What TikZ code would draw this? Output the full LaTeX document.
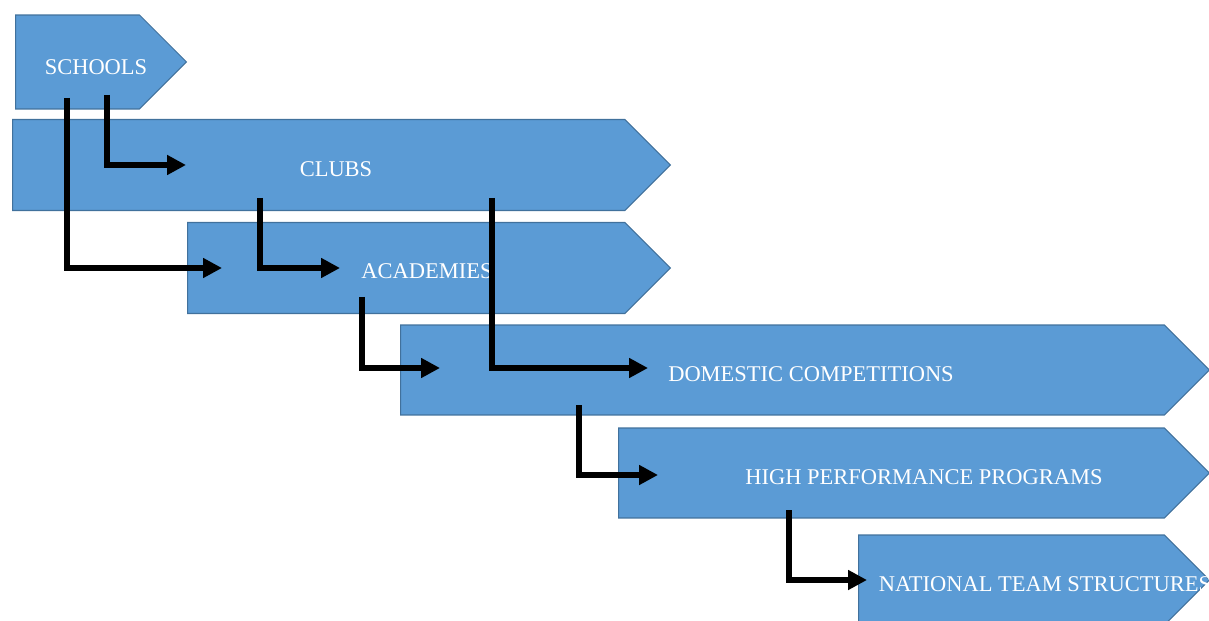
\documentclass[tikz,border=0pt]{standalone}
\usepackage{fontspec}
\setmainfont{Liberation Serif}
\usetikzlibrary{shapes.symbols, arrows.meta}

\definecolor{stagefill}{HTML}{5B9BD5}
\definecolor{stageline}{HTML}{41719C}

\tikzset{
  stage/.style = {signal, signal to=east, signal from=nowhere,
    signal pointer angle=90, fill=stagefill, draw=stageline,
    line width=0.6pt, inner sep=0pt, anchor=west},
  stagetext/.style = {text=white, inner sep=0pt,
    font=\fontsize{12.8}{15}\selectfont},
  flow/.style = {line width=3.4pt, -{Triangle[length=0.38cm, width=0.38cm]}}
}

\begin{document}
\begin{tikzpicture}[x=0.02cm, y=-0.02cm]
    \useasboundingbox (0,0) rectangle (1209,621);

    % the stages
    \node[stage, minimum width=3.42cm, minimum height=1.88cm]
      (schools) at (15,62) {};
    \node[stage, minimum width=13.16cm, minimum height=1.82cm]
      (clubs) at (12,165) {};
    \node[stage, minimum width=9.66cm, minimum height=1.82cm]
      (academies) at (187,268) {};
    \node[stage, minimum width=16.18cm, minimum height=1.80cm]
      (domestic) at (400,370) {};
    \node[stage, minimum width=11.82cm, minimum height=1.80cm]
      (highperf) at (618,473) {};
    \node[stage, minimum width=7.02cm, minimum height=1.80cm]
      (national) at (858,580) {};

    \node[stagetext] (schools-t) at (96,67) {SCHOOLS};
    \node[stagetext] (clubs-t) at (336,169) {CLUBS};
    \node[stagetext] (academies-t) at (427,271) {ACADEMIES};
    \node[stagetext] (domestic-t) at (811,374) {DOMESTIC COMPETITIONS};
    \node[stagetext] (highperf-t) at (924,477) {HIGH PERFORMANCE PROGRAMS};
    \node[stagetext] (national-t) at (1045,584) {NATIONAL TEAM STRUCTURES};

    % where the arrows leave and land
    \coordinate (schools-out1) at (67,98);
    \coordinate (schools-out2) at (107,95);
    \coordinate (clubs-out1) at (260,198);
    \coordinate (clubs-out2) at (492,198);
    \coordinate (academies-out) at (362,297);
    \coordinate (domestic-out) at (579,405);
    \coordinate (highperf-out) at (789,510);

    \coordinate (clubs-in) at (186,165);
    \coordinate (academies-in1) at (222,268);
    \coordinate (academies-in2) at (340,268);
    \coordinate (domestic-in1) at (440,368);
    \coordinate (domestic-in2) at (648,368);
    \coordinate (highperf-in) at (658,475);
    \coordinate (national-in) at (867,580);

    \draw[flow] (schools-out2) |- (clubs-in);
    \draw[flow] (schools-out1) |- (academies-in1);
    \draw[flow] (clubs-out1) |- (academies-in2);
    \draw[flow] (academies-out) |- (domestic-in1);
    \draw[flow] (clubs-out2) |- (domestic-in2);
    \draw[flow] (domestic-out) |- (highperf-in);
    \draw[flow] (highperf-out) |- (national-in);
\end{tikzpicture}
\end{document}
